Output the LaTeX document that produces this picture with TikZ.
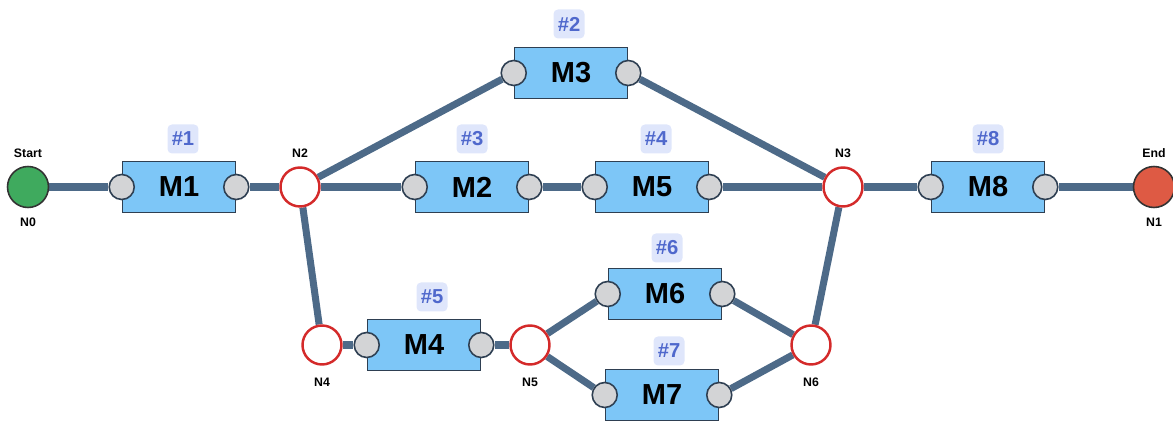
\documentclass[tikz,border=0pt]{standalone}
\usepackage{fontspec}
\setmainfont{Liberation Sans}
\usetikzlibrary{backgrounds}
\definecolor{wire}{HTML}{4D6A88}
\definecolor{boxfill}{HTML}{7DC6F7}
\definecolor{boxline}{HTML}{2E3F52}
\definecolor{portfill}{HTML}{D3D4D6}
\definecolor{junction}{HTML}{D42A2A}
\definecolor{startfill}{HTML}{3FAA5E}
\definecolor{endfill}{HTML}{DE5A44}
\definecolor{tagfill}{HTML}{DFE6FB}
\definecolor{tagtext}{HTML}{4F68CC}
\tikzset{
  machine/.style={shape=rectangle,draw=boxline,fill=boxfill,line width=0.9pt,
    minimum width=2.26cm,minimum height=1.02cm,inner sep=0pt,
    font=\fontsize{16.5}{18}\selectfont\bfseries},
  port/.style={shape=circle,draw=boxline,fill=portfill,line width=0.9pt,
    minimum size=0.5cm,inner sep=0pt},
  junc/.style={shape=circle,draw=junction,fill=white,line width=1.4pt,
    minimum size=0.78cm,inner sep=0pt},
  term/.style={shape=circle,draw=black!80,line width=0.9pt,
    minimum size=0.82cm,inner sep=0pt},
  tag/.style={fill=tagfill,text=tagtext,rounded corners=2.5pt,
    minimum width=0.62cm,minimum height=0.58cm,inner sep=1.5pt,
    font=\fontsize{11.5}{13}\selectfont\bfseries},
  lbl/.style={font=\fontsize{7}{8}\selectfont\bfseries,inner sep=0pt},
  wire/.style={draw=wire,line width=4pt}
}
\begin{document}
\begin{tikzpicture}[x=0.02cm,y=-0.02cm]
\useasboundingbox (0,0) rectangle (1173,421);
% junctions
\node[term,fill=startfill] (N0) at (28,187) {};
\node[term,fill=endfill] (N1) at (1154,187) {};
\node[junc] (N2) at (300,187) {};
\node[junc] (N3) at (843,187) {};
\node[junc] (N4) at (322,345) {};
\node[junc] (N5) at (530,345) {};
\node[junc] (N6) at (811,345) {};
\node[lbl] (N0top) at (28,153) {Start};
\node[lbl] (N0bot) at (28,222) {N0};
\node[lbl] (N1top) at (1154,153) {End};
\node[lbl] (N1bot) at (1154,222) {N1};
\node[lbl] (N2lbl) at (300,153) {N2};
\node[lbl] (N3lbl) at (843,153) {N3};
\node[lbl] (N4lbl) at (322,382) {N4};
\node[lbl] (N5lbl) at (530,382) {N5};
\node[lbl] (N6lbl) at (811,382) {N6};
% machines
\node[machine] (M1) at (179,187) {M1};
\node[machine] (M2) at (472,187) {M2};
\node[machine] (M3) at (571,73) {M3};
\node[machine] (M4) at (424,345) {M4};
\node[machine] (M5) at (652,187) {M5};
\node[machine] (M6) at (665,294) {M6};
\node[machine] (M7) at (662,395) {M7};
\node[machine] (M8) at (988,187) {M8};
\foreach \m in {M1,M2,M3,M4,M5,M6,M7,M8} {
  \node[port] (\m-in) at (\m.west) {};
  \node[port] (\m-out) at (\m.east) {};
}
% tags
\node[tag] (T1) at (183,139) {\#1};
\node[tag] (T2) at (569,24) {\#2};
\node[tag] (T3) at (472,139) {\#3};
\node[tag] (T4) at (656,139) {\#4};
\node[tag] (T5) at (432,297) {\#5};
\node[tag] (T6) at (667,248) {\#6};
\node[tag] (T7) at (669,351) {\#7};
\node[tag] (T8) at (988,139) {\#8};
% wires
\begin{pgfonlayer}{background}
\path [wire] (N0) edge (M1-in);
\path [wire] (M1-out) edge (N2);
\path [wire] (N2) edge (M3-in);
\path [wire] (M3-out) edge (N3);
\path [wire] (N2) edge (M2-in);
\path [wire] (M2-out) edge (M5-in);
\path [wire] (M5-out) edge (N3);
\path [wire] (N3) edge (M8-in);
\path [wire] (M8-out) edge (N1);
\path [wire] (N2) edge (N4);
\path [wire] (N4) edge (M4-in);
\path [wire] (M4-out) edge (N5);
\path [wire] (N5) edge (M6-in);
\path [wire] (N5) edge (M7-in);
\path [wire] (M6-out) edge (N6);
\path [wire] (M7-out) edge (N6);
\path [wire] (N6) edge (N3);
\end{pgfonlayer}
\end{tikzpicture}
\end{document}
